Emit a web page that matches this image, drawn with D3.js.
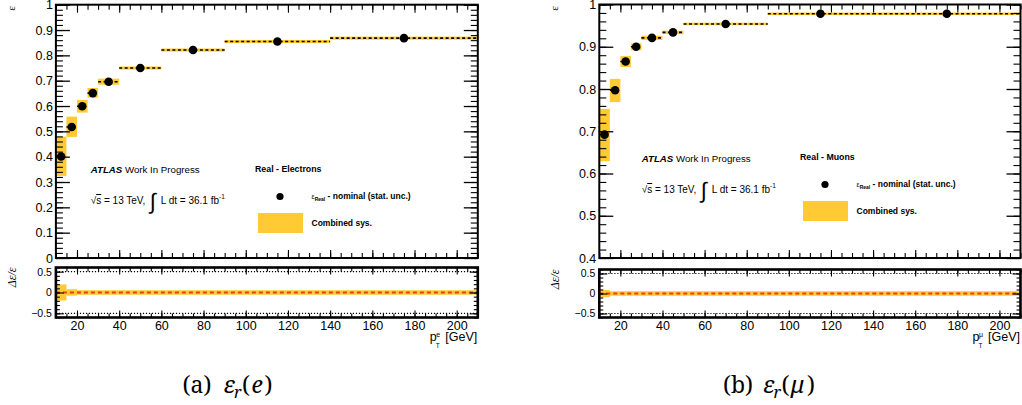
<!DOCTYPE html>
<html><head><meta charset="utf-8">
<script src="https://cdn.jsdelivr.net/npm/d3@7"></script>
<style>
body{margin:0;background:#fff}
svg{display:block}
text{font-family:"Liberation Sans",Arial,Helvetica,sans-serif;fill:#000}
text.serif{font-family:"Liberation Serif",serif}
text.cap{font-family:"Noto Serif","Liberation Serif",serif}
</style>
</head><body>
<svg id="chart" width="1022" height="405"></svg>
<script>
// ---------- data ----------
const xTickValues = [20,40,60,80,100,120,140,160,180,200];
const xTickLabels = ["20","40","60","80","100","120","140","160","180","200"];
const elecYTickValues = [0,0.1,0.2,0.3,0.4,0.5,0.6,0.7,0.8,0.9,1];
const elecYTickLabels = ["0","0.1","0.2","0.3","0.4","0.5","0.6","0.7","0.8","0.9","1"];
const muonYTickValues = [0.4,0.5,0.6,0.7,0.8,0.9,1];
const muonYTickLabels = ["0.4","0.5","0.6","0.7","0.8","0.9","1"];
const ratioTickValues = [-0.5,0,0.5];
const ratioTickLabels = ["\u22120.5","0","0.5"];

const elecBinEdges = [10,15,20,25,30,40,60,90,140,210];
const elecEff      = [0.401,0.517,0.599,0.651,0.696,0.750,0.821,0.855,0.868];
const elecSysUp    = [0.479,0.558,0.624,0.671,0.708,0.756,0.827,0.861,0.874];
const elecSysDown  = [0.324,0.478,0.574,0.633,0.684,0.744,0.815,0.849,0.862];

const muonBinEdges = [10,15,20,25,30,40,50,90,140,210];
const muonEff      = [0.692,0.797,0.865,0.900,0.921,0.934,0.954,0.978,0.978];
const muonSysUp    = [0.753,0.824,0.878,0.908,0.926,0.938,0.957,0.981,0.981];
const muonSysDown  = [0.629,0.769,0.852,0.892,0.916,0.930,0.951,0.975,0.975];

// ---------- styles ----------
const YEL = "#ffca33";
const RED = "#ee3b1f";

const svg = d3.select("#chart");

function drawPanel(cfg) {
  const g = svg.append("g");
  const x = d3.scaleLinear().domain([10,210]).range([cfg.left, cfg.right]);
  const y = d3.scaleLinear().domain(cfg.yDomain).range([cfg.mainBottom, cfg.mainTop]);
  const r = d3.scaleLinear().domain([-0.6,0.6]).range([cfg.ratioBottom, cfg.ratioTop]);

  const bins = cfg.eff.map((v,i)=>({lo:cfg.edges[i], hi:cfg.edges[i+1], v, up:cfg.up[i], dn:cfg.dn[i]}));

  const clipId = "clip"+cfg.id;
  svg.append("clipPath").attr("id", clipId).append("rect")
    .attr("x", cfg.left).attr("y", cfg.mainTop)
    .attr("width", cfg.right-cfg.left).attr("height", cfg.mainBottom-cfg.mainTop);
  const clipIdR = "clipr"+cfg.id;
  svg.append("clipPath").attr("id", clipIdR).append("rect")
    .attr("x", cfg.left).attr("y", cfg.ratioTop)
    .attr("width", cfg.right-cfg.left).attr("height", cfg.ratioBottom-cfg.ratioTop);

  // ---- main plot ----
  const m = g.append("g").attr("clip-path", `url(#${clipId})`);
  m.selectAll("rect.band").data(bins).join("rect").attr("class","band")
    .attr("x", d=>x(d.lo)).attr("width", d=>x(d.hi)-x(d.lo))
    .attr("y", d=>y(d.up)).attr("height", d=>y(d.dn)-y(d.up))
    .attr("fill", YEL);
  m.selectAll("line.xerr").data(bins).join("line").attr("class","xerr")
    .attr("x1", d=>x(d.lo)).attr("x2", d=>x(d.hi))
    .attr("y1", d=>y(d.v)).attr("y2", d=>y(d.v))
    .attr("stroke","#000").attr("stroke-width",1.6).attr("stroke-dasharray","3,2.5");
  m.selectAll("circle.pt").data(bins).join("circle").attr("class","pt")
    .attr("cx", d=>x((d.lo+d.hi)/2)).attr("cy", d=>y(d.v)).attr("r",4.3).attr("fill","#000");

  // axes main
  const yMinor = d3.range(Math.round(cfg.yDomain[0]*50), Math.round(cfg.yDomain[1]*50)+1).map(k=>k/50);
  const xMinor = d3.range(10, 211, 5);
  const lab = (vals, labels) => (d => labels[vals.indexOf(d)]);

  const axL = g.append("g").attr("transform",`translate(${cfg.left},0)`)
    .call(d3.axisLeft(y).tickValues(yMinor).tickSize(-7).tickFormat(""));
  const axLM = g.append("g").attr("transform",`translate(${cfg.left},0)`)
    .call(d3.axisLeft(y).tickValues(cfg.yTicks).tickSize(-14).tickPadding(3)
      .tickFormat(lab(cfg.yTicks, cfg.yLabels)));
  const axR = g.append("g").attr("transform",`translate(${cfg.right},0)`)
    .call(d3.axisRight(y).tickValues(yMinor).tickSize(-7).tickFormat(""));
  const axRM = g.append("g").attr("transform",`translate(${cfg.right},0)`)
    .call(d3.axisRight(y).tickValues(cfg.yTicks).tickSize(-14).tickFormat(""));
  const axB = g.append("g").attr("transform",`translate(0,${cfg.mainBottom})`)
    .call(d3.axisBottom(x).tickValues(xMinor).tickSize(-5).tickFormat(""));
  const axBM = g.append("g").attr("transform",`translate(0,${cfg.mainBottom})`)
    .call(d3.axisBottom(x).tickValues(xTickValues).tickSize(-8).tickFormat(""));
  const axT = g.append("g").attr("transform",`translate(0,${cfg.mainTop})`)
    .call(d3.axisTop(x).tickValues(xMinor).tickSize(-5).tickFormat(""));
  const axTM = g.append("g").attr("transform",`translate(0,${cfg.mainTop})`)
    .call(d3.axisTop(x).tickValues(xTickValues).tickSize(-8).tickFormat(""));
  [axL,axLM,axR,axRM,axB,axBM,axT,axTM].forEach(a=>{
    a.select(".domain").remove();
    a.selectAll("line").attr("stroke","#000").attr("stroke-width",1.1);
    a.selectAll("text").style("font-size","12.5px").attr("fill","#000");
  });
  axLM.selectAll("line").attr("stroke-width",1.3);
  axRM.selectAll("line").attr("stroke-width",1.3);

  g.append("rect").attr("x",cfg.left).attr("y",cfg.mainTop)
    .attr("width",cfg.right-cfg.left).attr("height",cfg.mainBottom-cfg.mainTop)
    .attr("fill","none").attr("stroke","#000").attr("stroke-width",2);

  // ---- ratio ----
  const rg = g.append("g").attr("clip-path", `url(#${clipIdR})`);
  rg.selectAll("line.dot").data([-0.5,0.5]).join("line").attr("class","dot")
    .attr("x1",cfg.left).attr("x2",cfg.right).attr("y1",d=>r(d)).attr("y2",d=>r(d))
    .attr("stroke","#000").attr("stroke-width",1.2).attr("stroke-dasharray","1.2,1.8");
  rg.selectAll("rect.rband").data(bins).join("rect").attr("class","rband")
    .attr("x", d=>x(d.lo)).attr("width", d=>x(d.hi)-x(d.lo))
    .attr("y", d=>r((d.up-d.v)/d.v)).attr("height", d=>r((d.dn-d.v)/d.v)-r((d.up-d.v)/d.v))
    .attr("fill", YEL);
  rg.append("line").attr("x1",cfg.left).attr("x2",cfg.right).attr("y1",r(0)).attr("y2",r(0))
    .attr("stroke",YEL).attr("stroke-width",4.5);
  rg.append("line").attr("x1",cfg.left).attr("x2",cfg.right).attr("y1",r(0)).attr("y2",r(0))
    .attr("stroke",RED).attr("stroke-width",2).attr("stroke-dasharray","4,3");

  const rMinor = d3.range(-6,7).map(k=>k/10);
  const rL = g.append("g").attr("transform",`translate(${cfg.left},0)`)
    .call(d3.axisLeft(r).tickValues(rMinor).tickSize(-4).tickFormat(""));
  const rLM = g.append("g").attr("transform",`translate(${cfg.left},0)`)
    .call(d3.axisLeft(r).tickValues(ratioTickValues).tickSize(-8).tickPadding(4)
      .tickFormat(lab(ratioTickValues, ratioTickLabels)));
  const rR = g.append("g").attr("transform",`translate(${cfg.right},0)`)
    .call(d3.axisRight(r).tickValues(rMinor).tickSize(-4).tickFormat(""));
  const rRM = g.append("g").attr("transform",`translate(${cfg.right},0)`)
    .call(d3.axisRight(r).tickValues(ratioTickValues).tickSize(-8).tickFormat(""));
  const rB = g.append("g").attr("transform",`translate(0,${cfg.ratioBottom})`)
    .call(d3.axisBottom(x).tickValues(xMinor).tickSize(-4).tickFormat(""));
  const rBM = g.append("g").attr("transform",`translate(0,${cfg.ratioBottom})`)
    .call(d3.axisBottom(x).tickValues(xTickValues).tickSize(-7).tickPadding(4)
      .tickFormat(lab(xTickValues, xTickLabels)));
  const rT = g.append("g").attr("transform",`translate(0,${cfg.ratioTop})`)
    .call(d3.axisTop(x).tickValues(xMinor).tickSize(-4).tickFormat(""));
  const rTM = g.append("g").attr("transform",`translate(0,${cfg.ratioTop})`)
    .call(d3.axisTop(x).tickValues(xTickValues).tickSize(-7).tickFormat(""));
  [rL,rLM,rR,rRM,rB,rBM,rT,rTM].forEach(a=>{
    a.select(".domain").remove();
    a.selectAll("line").attr("stroke","#000").attr("stroke-width",1.1);
    a.selectAll("text").attr("fill","#000");
  });
  rLM.selectAll("text").style("font-size","10.5px");
  rBM.selectAll("text").style("font-size","12.5px");

  g.append("rect").attr("x",cfg.left).attr("y",cfg.ratioTop)
    .attr("width",cfg.right-cfg.left).attr("height",cfg.ratioBottom-cfg.ratioTop)
    .attr("fill","none").attr("stroke","#000").attr("stroke-width",2.6);

  // ---- axis titles ----
  g.append("text").attr("class","serif")
    .attr("transform",`translate(${cfg.left-41},${cfg.mainTop+1.5}) rotate(-90)`)
    .attr("text-anchor","end").style("font-size","11px").text("\u03b5");
  g.append("text").attr("class","serif")
    .attr("transform",`translate(${cfg.left-40},${cfg.ratioTop}) rotate(-90)`)
    .attr("text-anchor","end").style("font-style","italic").style("font-size","12px")
    .text("\u0394\u03b5/\u03b5");

  const xt = g.append("g").attr("transform",`translate(${cfg.right},${cfg.ratioBottom})`);
  xt.append("text").attr("x",-0.5).attr("y",23.5).attr("text-anchor","end")
    .style("font-size","12.5px").text("[GeV]");
  xt.append("text").attr("x",-48).attr("y",23).style("font-size","12.5px").text("p");
  xt.append("text").attr("x",-42).attr("y",30).style("font-size","6.5px").text("T");
  xt.append("text").attr("x",-41.5).attr("y",19.5).style("font-size","7px").text(cfg.particle);

  // ---- legend / labels ----
  const L = cfg.legend;
  const t1 = g.append("text").attr("x",L.atlasX).attr("y",L.atlasY).style("font-size","9.7px");
  t1.append("tspan").style("font-weight","bold").style("font-style","italic").text("ATLAS");
  t1.append("tspan").text(" Work In Progress");

  const t2 = g.append("text").attr("x",L.atlasX).attr("y",L.atlasY+31).style("font-size","10px");
  t2.append("tspan").text("\u221a");
  t2.append("tspan").style("text-decoration","overline").text("s");
  t2.append("tspan").text(" = 13 TeV,");
  g.append("text").attr("x",L.atlasX+59).attr("y",L.atlasY+36)
    .style("font-family","'DejaVu Sans',sans-serif").style("font-size","22px").style("font-weight","300").text("\u222b");
  const t3 = g.append("text").attr("x",L.atlasX+70).attr("y",L.atlasY+31).style("font-size","10px");
  t3.append("tspan").text("L dt = 36.1 fb");
  t3.append("tspan").attr("dy",-5).style("font-size","6.5px").text("-1");

  g.append("text").attr("x",L.titleX).attr("y",L.titleY)
    .style("font-size","8.8px").style("font-weight","bold").text(cfg.title);
  g.append("circle").attr("cx",L.titleX+25).attr("cy",L.titleY+24.5).attr("r",3.6).attr("fill","#000");
  const t4 = g.append("text").attr("x",L.titleX+56.5).attr("y",L.titleY+27).style("font-size","8.5px").style("font-weight","bold");
  t4.append("tspan").style("font-weight","normal").style("font-size","7px").text("\u03b5");
  t4.append("tspan").attr("dy",2).style("font-size","5px").text("Real");
  t4.append("tspan").attr("dy",-2).text(" - nominal (stat. unc.)");
  g.append("rect").attr("x",L.titleX+3).attr("y",L.titleY+41).attr("width",45).attr("height",20).attr("fill",YEL);
  g.append("text").attr("x",L.titleX+56.5).attr("y",L.titleY+54)
    .style("font-size","8.5px").style("font-weight","bold").text("Combined sys.");

  // ---- caption ----
  const C = cfg.caption;
  const cap = g.append("g").attr("transform",`translate(${C.x},${C.y})`);
  const cs = (dx, dy, txt, size, italic) => cap.append("text").attr("class","cap")
    .attr("x",dx).attr("y",dy).style("font-size",size+"px")
    .style("font-style", italic ? "italic" : "normal").text(txt);
  cs(0, 0, C.tag, 23, false);
  cs(C.epsDx, 0, "\u03b5", 23, true);
  cs(C.epsDx+10.5, 4.5, "r", 16, true);
  cs(C.epsDx+18.5, 0, "(", 23, false);
  cs(C.epsDx+28, 0, C.arg, 23, true);
  cs(C.epsDx+C.closeDx, 0, ")", 23, false);
}

drawPanel({
  id:"e", left:55.9, right:477.8, mainTop:4.7, mainBottom:258, ratioTop:267.5, ratioBottom:317.5,
  yDomain:[0,1], yTicks:elecYTickValues, yLabels:elecYTickLabels,
  edges:elecBinEdges, eff:elecEff, up:elecSysUp, dn:elecSysDown,
  particle:"e", title:"Real - Electrons",
  legend:{atlasX:90.7, atlasY:173, titleX:255, titleY:172},
  caption:{x:182.5, y:393, tag:"(a)", arg:"e", epsDx:41, closeDx:41}
});
drawPanel({
  id:"m", left:599.3, right:1020.5, mainTop:4.5, mainBottom:258, ratioTop:269.5, ratioBottom:317.5,
  yDomain:[0.4,1], yTicks:muonYTickValues, yLabels:muonYTickLabels,
  edges:muonBinEdges, eff:muonEff, up:muonSysUp, dn:muonSysDown,
  particle:"\u03bc", title:"Real - Muons",
  legend:{atlasX:641.7, atlasY:162, titleX:800, titleY:160},
  caption:{x:723, y:393, tag:"(b)", arg:"\u03bc", epsDx:40, closeDx:44}
});
</script>
</body></html>
